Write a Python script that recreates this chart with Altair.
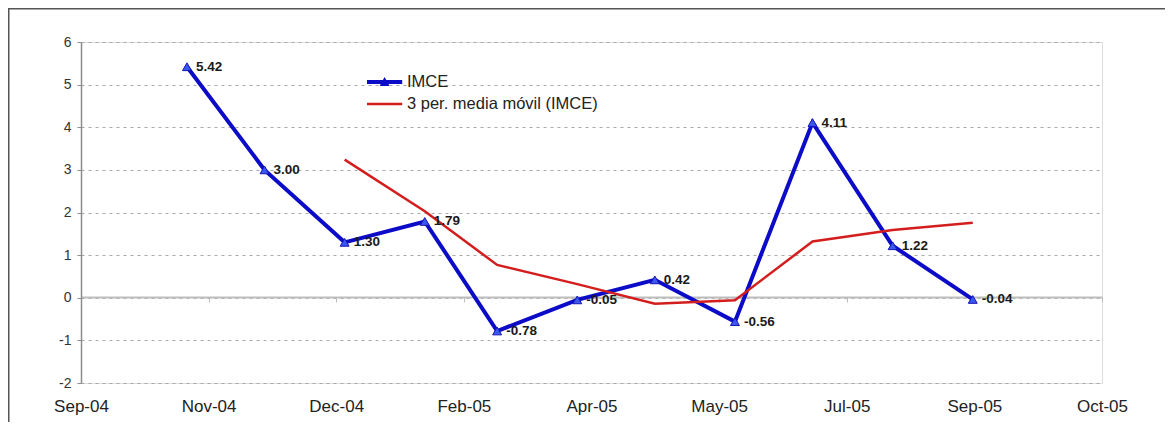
import altair as alt
import pandas as pd

# ---- data ----
months = ["2004-11-01", "2004-12-01", "2005-01-01", "2005-02-01", "2005-03-01",
          "2005-04-01", "2005-05-01", "2005-06-01", "2005-07-01", "2005-08-01",
          "2005-09-01"]
imce = [5.42, 3.00, 1.30, 1.79, -0.78, -0.05, 0.42, -0.56, 4.11, 1.22, -0.04]
ma_months = months[2:]
ma_values = [3.24, 2.03, 0.77, 0.32, -0.14, -0.06, 1.32, 1.59, 1.76]
series_names = ["IMCE", "3 per. media móvil (IMCE)"]
x_domain = ["2004-09-21", "2005-10-21"]
y_ticks = [-2, -1, 0, 1, 2, 3, 4, 5, 6]

df = pd.DataFrame({"date": months, "value": imce})
dma = pd.DataFrame({"date": ma_months, "value": ma_values})

tick_ms = [int(t.value // 10**6) for t in pd.date_range(x_domain[0], x_domain[1], periods=9)]
domain_ms = [tick_ms[0], tick_ms[-1]]

FONT = "Liberation Sans"
BLUE = "#0B0BC8"
RED = "#D41E1E"

PLOT_W = 1021
PLOT_H = 341
PAD_L, PAD_T, PAD_R, PAD_B = 73, 34, 64, 40

x_enc = alt.X(
    "date:T",
    title=None,
    scale=alt.Scale(type="utc", domain=domain_ms, nice=False),
    axis=alt.Axis(
        values=tick_ms, labelExpr="utcFormat(datum.value, '%b-%y')",
        offset=-86, domainColor="#bdbdbd", domainWidth=2,
        tickColor="#bdbdbd", tickSize=5, tickWidth=1,
        labelPadding=96, labelFontSize=17, labelFont=FONT, labelColor="#222222",
        grid=False, labelFlush=False,
    ),
)
y_enc = alt.Y(
    "value:Q",
    title=None,
    scale=alt.Scale(domain=[-2, 6], nice=False, zero=False),
    axis=alt.Axis(
        values=y_ticks, grid=True, gridDash=[3, 4], gridColor="#a8a8a8", gridWidth=1,
        domainColor="#8c8c8c", domainWidth=1.5, tickColor="#8c8c8c", tickSize=4,
        labelFontSize=14, labelFont=FONT, labelColor="#333333", labelPadding=6,
        labelExpr="'' + datum.value",
    ),
)

one = pd.DataFrame({"k": [0]})
frame_top = alt.Chart(one).mark_rect(color="#555555", clip=False).encode(
    x=alt.value(-PAD_L), x2=alt.value(PLOT_W + PAD_R - 1),
    y=alt.value(-PAD_T), y2=alt.value(-PAD_T + 1.5),
)
frame_left = alt.Chart(one).mark_rect(color="#555555", clip=False).encode(
    x=alt.value(-PAD_L), x2=alt.value(-PAD_L + 1.5),
    y=alt.value(-PAD_T), y2=alt.value(PLOT_H + PAD_B - 1),
)

blue_line = alt.Chart(df).mark_line(color=BLUE, strokeWidth=4).encode(x=x_enc, y=y_enc)
red_line = alt.Chart(dma).mark_line(color=RED, strokeWidth=2.5).encode(x=x_enc, y=y_enc)
markers = alt.Chart(df).mark_point(
    shape="triangle-up", filled=True, size=80, color="#3A58F0",
    stroke="#1414B4", strokeWidth=1, opacity=1
).encode(x=x_enc, y=y_enc)
labels = alt.Chart(df).transform_calculate(
    label="replace(format(datum.value, '.2f'), '\u2212', '-')"
).mark_text(
    align="left", baseline="middle", dx=9, fontWeight="bold", fontSize=13.5,
    font=FONT, color="#1a1a1a"
).encode(x=x_enc, y=y_enc, text="label:N")

imce_sym = "M-1,-0.18H2.2V0.18H-1Z M0.6,-0.45L1.05,0.36H0.15Z"
ma_sym = "M-1,-0.11H2.2V0.11H-1Z"
leg = dict(title=None, orient="none", legendX=286, legendY=29,
           labelFontSize=16.5, labelFont=FONT, labelColor="#222222",
           symbolSize=484, labelOffset=18, rowPadding=2,
           padding=0, labelLimit=400, symbolStrokeWidth=0)
legend_layer = alt.Chart(df).transform_calculate(series="'IMCE'").transform_filter(
    "false"
).mark_point(filled=True, opacity=1).encode(
    x=x_enc, y=y_enc,
    color=alt.Color("series:N", scale=alt.Scale(domain=series_names, range=[BLUE, RED]),
                    legend=alt.Legend(**leg)),
    shape=alt.Shape("series:N", scale=alt.Scale(domain=series_names, range=[imce_sym, ma_sym]),
                    legend=alt.Legend(**leg)),
)

chart = alt.layer(frame_top, frame_left, blue_line, markers, red_line, labels,
                  legend_layer).properties(
    width=PLOT_W, height=PLOT_H,
    padding={"left": PAD_L, "top": PAD_T, "right": PAD_R, "bottom": PAD_B},
    autosize=alt.AutoSizeParams(type="none"),
).configure_view(stroke=None).configure(background="white")

chart.save("out.html", embed_options={"renderer": "svg", "actions": False})
